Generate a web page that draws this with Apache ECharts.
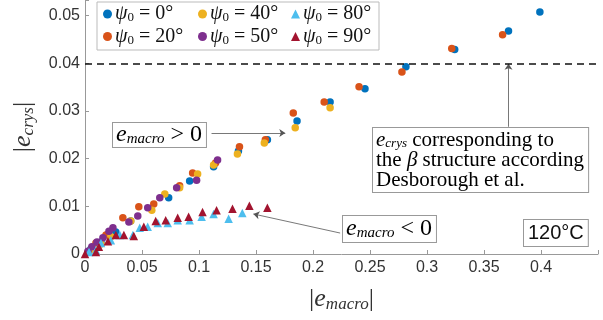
<!DOCTYPE html>
<html>
<head>
<meta charset="utf-8">
<script src="https://cdn.jsdelivr.net/npm/echarts@6/dist/echarts.min.js"></script>
<style>
  html, body { margin: 0; padding: 0; background: #fff; }
  #chart-container { width: 603px; height: 320px; }
</style>
</head>
<body>
<div id="chart-container"></div>
<script>
// |e_macro|, |e_crys| pairs
var psi0 = [[0.399, 0.0508], [0.3715, 0.0468], [0.3243, 0.0429], [0.2815, 0.0393], [0.2456, 0.0347],
  [0.215, 0.0319], [0.186, 0.0279], [0.160, 0.0240], [0.1346, 0.0216], [0.1128, 0.0183],
  [0.0918, 0.0153], [0.0734, 0.0118], [0.040, 0.0069], [0.027, 0.0046], [0.014, 0.0025], [0.005, 0.001]];
var psi20 = [[0.3663, 0.046], [0.3217, 0.0431], [0.278, 0.0382], [0.2404, 0.0351], [0.2098, 0.0319],
  [0.1827, 0.0296], [0.1582, 0.0240], [0.1355, 0.0225], [0.1145, 0.0191], [0.0944, 0.017],
  [0.083, 0.0143], [0.0603, 0.0105], [0.0472, 0.0099], [0.0332, 0.0076], [0.0184, 0.004], [0.0096, 0.0023]];
var psi40 = [[0.215, 0.0307], [0.1844, 0.0265], [0.1573, 0.0233], [0.1337, 0.021], [0.1128, 0.0187],
  [0.0988, 0.0168], [0.083, 0.0139], [0.070, 0.0126], [0.0586, 0.0092], [0.0402, 0.0069],
  [0.0227, 0.0036], [0.014, 0.0021], [0.005, 0.0008]];
var psi50 = [[0.1163, 0.0197], [0.0979, 0.0155], [0.0804, 0.0139], [0.0656, 0.0118], [0.055, 0.0097],
  [0.0463, 0.008], [0.0385, 0.0067], [0.0245, 0.0055], [0.021, 0.0048], [0.0157, 0.0034],
  [0.0105, 0.0025], [0.006, 0.0015], [0.0026, 0.0006]];
var psi80 = [[0.138, 0.0086], [0.126, 0.0074], [0.1128, 0.0084], [0.1023, 0.0078], [0.0918, 0.0071],
  [0.0813, 0.0071], [0.0726, 0.0065], [0.0638, 0.0065], [0.055, 0.0057], [0.048, 0.0055],
  [0.042, 0.004], [0.0306, 0.004], [0.0227, 0.0029], [0.014, 0.0023], [0.0096, 0.0008], [0.0035, 0.0004]];
var psi90 = [[0.16, 0.0097], [0.1442, 0.0101], [0.1294, 0.0095], [0.1154, 0.0092], [0.1031, 0.0088],
  [0.0909, 0.0078], [0.0813, 0.0076], [0.0708, 0.0071], [0.062, 0.0069], [0.0516, 0.0057],
  [0.0428, 0.0038], [0.0341, 0.004], [0.0271, 0.004], [0.0201, 0.0027], [0.0122, 0.0015],
  [0.0096, 0.0004], [0, 0]];

var angles = ["0", "20", "40", "50", "80", "90"];
var colors = ["#0072BD", "#D95319", "#EDB120", "#7E2F8E", "#4DBEEE", "#A2142F"];
var betaLevel = 0.04;

var dom = document.getElementById("chart-container");
var myChart = echarts.init(dom, null, { renderer: "canvas" });

var serif = "'Liberation Serif', 'DejaVu Serif', serif";
var sans = "'Liberation Sans', Arial, sans-serif";

var allData = [psi0, psi20, psi40, psi50, psi80, psi90];
var names = angles.map(function (a) { return "psi" + a; });

var legendRich = {
  g: { fontFamily: serif, fontStyle: "italic", fontSize: 20, color: "#111" },
  s: { fontFamily: serif, fontSize: 13, color: "#111", padding: [8, 0, 0, 0] },
  t: { fontFamily: serif, fontSize: 20, color: "#111" }
};
function legendFmt(name) {
  return "{g|ψ}{s|0}{t| = " + name.replace("psi", "") + "°}";
}

var series = allData.map(function (d, i) {
  return {
    name: names[i],
    type: "scatter",
    data: d,
    symbol: i < 4 ? "circle" : "triangle",
    symbolSize: i < 4 ? 7.5 : 8.5,
    itemStyle: { color: colors[i], opacity: 1 },
    z: 3
  };
});

var arrowStyle = { color: "#555", width: 0.8, type: "solid" };
series.push({
  type: "scatter",
  data: [],
  silent: true,
  markLine: {
    silent: true,
    animation: false,
    label: { show: false },
    symbol: ["none", "arrow"],
    symbolSize: [6, 6],
    data: [
      [{ coord: [0.111, 0.0254], lineStyle: arrowStyle }, { coord: [0.1757, 0.0254] }],
      [{ coord: [0.2238, 0.0044], lineStyle: arrowStyle }, { coord: [0.1477, 0.0084] }],
      [{ coord: [0.3715, 0.0267], lineStyle: arrowStyle }, { coord: [0.3715, 0.0399] }]
    ]
  }
});
series.push({
  type: "scatter",
  data: [],
  silent: true,
  markLine: {
    silent: true,
    animation: false,
    symbol: ["none", "none"],
    label: { show: false },
    lineStyle: { color: "#111", width: 1.5, type: [7, 5] },
    data: [{ yAxis: betaLevel }]
  }
});

function legendBlock(left, items) {
  return {
    orient: "vertical",
    left: left,
    top: 4,
    itemGap: 2,
    itemWidth: 9,
    itemHeight: 9,
    padding: 0,
    data: items.map(function (n) {
      return { name: n, icon: names.indexOf(n) < 4 ? "circle" : "triangle" };
    }),
    formatter: legendFmt,
    textStyle: { rich: legendRich, padding: [0, 0, 0, -2] },
    selectedMode: false
  };
}

var eRich = {
  e: { fontFamily: serif, fontStyle: "italic", fontSize: 24, color: "#111" },
  s: { fontFamily: serif, fontStyle: "italic", fontSize: 15, color: "#111", padding: [9, 0, 0, 0] },
  t: { fontFamily: serif, fontSize: 24, color: "#111" }
};
var nameRich = {
  e: { fontFamily: serif, fontStyle: "italic", fontSize: 26, color: "#333" },
  s: { fontFamily: serif, fontStyle: "italic", fontSize: 17, color: "#333", padding: [10, 0, 0, 0] }
};

option = {
  animation: false,
  grid: { left: 85, right: 5, top: 0, bottom: 66 },
  legend: [
    legendBlock(103, [names[0], names[1]]),
    legendBlock(198, [names[2], names[3]]),
    legendBlock(291, [names[4], names[5]])
  ],
  xAxis: {
    type: "value",
    min: 0,
    max: 0.45,
    interval: 0.05,
    name: "|{e|e}{s|macro}|",
    nameLocation: "middle",
    nameGap: 32,
    nameTextStyle: { fontFamily: serif, fontSize: 26, color: "#333", rich: nameRich },
    splitLine: { show: false },
    axisLine: { lineStyle: { color: "#999", width: 1 } },
    axisTick: { inside: true, length: 4, lineStyle: { color: "#999" } },
    axisLabel: {
      fontFamily: sans, fontSize: 16, color: "#333", margin: 6,
      formatter: function (v) {
        if (v > 0.425) return "";
        return String(Math.round(v * 100) / 100);
      }
    }
  },
  yAxis: {
    type: "value",
    min: 0,
    max: 0.0533,
    interval: 0.01,
    name: "|{e|e}{s|crys}|",
    nameLocation: "middle",
    nameRotate: 90,
    nameGap: 48,
    nameTextStyle: { fontFamily: serif, fontSize: 26, color: "#333", rich: nameRich },
    splitLine: { show: false },
    axisLine: { show: true, lineStyle: { color: "#999", width: 1 } },
    axisTick: { show: true, inside: true, length: 4, lineStyle: { color: "#999" } },
    axisLabel: {
      fontFamily: sans, fontSize: 16, color: "#333", margin: 5,
      formatter: function (v) {
        var r = Math.round(v * 100) / 100;
        if (Math.abs(v - r) > 1e-6) return "";
        return String(r);
      }
    }
  },
  graphic: [
    { type: "rect", shape: { x: 97, y: 2, width: 282, height: 48 }, style: { fill: null, stroke: "#bbb", lineWidth: 1 }, z: 0, silent: true },
    {
      type: "text", left: 112, top: 122, z: 10, silent: true,
      style: {
        text: "{e|e}{s|macro}{t| > 0}", rich: eRich,
        backgroundColor: "#fff", borderColor: "#999", borderWidth: 1, padding: [0, 4, 0, 3]
      }
    },
    {
      type: "text", left: 342, top: 215, z: 10, silent: true,
      style: {
        text: "{e|e}{s|macro}{t| < 0}", rich: eRich,
        backgroundColor: "#fff", borderColor: "#999", borderWidth: 1, padding: [1, 4, 1, 3]
      }
    },
    {
      type: "text", left: 523, top: 219, z: 10, silent: true,
      style: {
        text: "120°C", font: "20px " + sans, fill: "#111",
        backgroundColor: "#fff", borderColor: "#999", borderWidth: 1, padding: [3, 4, 3, 4]
      }
    },
    {
      type: "text", left: 372, top: 127, z: 10, silent: true,
      style: {
        text: "{e|e}{s|crys}{t| corresponding to}\n{t|the }{b|β}{t| structure according}\n{t|Desborough et al.}",
        rich: {
          e: { fontFamily: serif, fontStyle: "italic", fontSize: 21, color: "#111", lineHeight: 20 },
          s: { fontFamily: serif, fontStyle: "italic", fontSize: 13, color: "#111", padding: [7, 0, 0, 0], lineHeight: 20 },
          b: { fontFamily: serif, fontStyle: "italic", fontSize: 21, color: "#111", lineHeight: 20 },
          t: { fontFamily: serif, fontSize: 21, color: "#111", lineHeight: 20 }
        },
        backgroundColor: "#fff", borderColor: "#999", borderWidth: 1, padding: [2, 4, 2, 3]
      }
    }
  ],
  series: series
};

myChart.setOption(option);
window.addEventListener("resize", myChart.resize);
</script>
</body>
</html>
